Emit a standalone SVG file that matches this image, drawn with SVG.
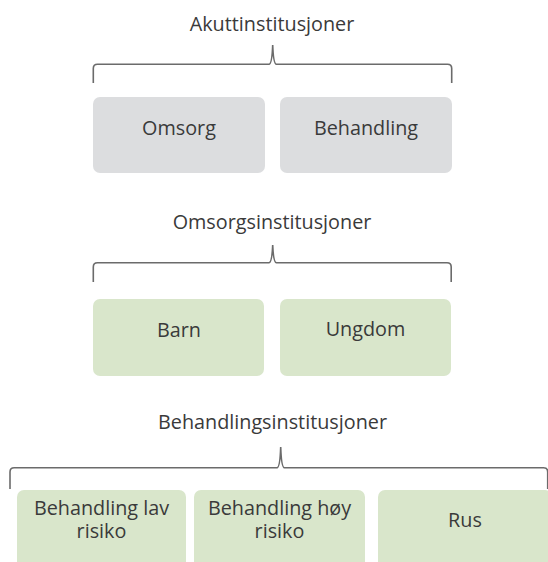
<svg xmlns="http://www.w3.org/2000/svg" width="548" height="562" viewBox="0 0 548 562">
<style>
.title{font-family:"Open Sans","Noto Sans",sans-serif;font-size:19.8px;fill:#3a3a3a;text-anchor:middle}
.lbl{font-family:"Open Sans","Noto Sans",sans-serif;font-size:19.8px;fill:#3a3a3a;text-anchor:middle}
.gray{fill:#dcdddf}
.green{fill:#d9e6cb}
.brace{fill:none;stroke:#6b6b6b;stroke-width:1.6}
</style>
<rect width="548" height="562" fill="#ffffff"/>
<g id="connectors">
<path class="brace" d="M93.3 83 L93.3 68.5 Q93.3 64.3 97.5 64.3 L269 64.3 Q272 64 272.7 45 Q273.4 64 276.4 64.3 L447.5 64.3 Q451.7 64.3 451.7 68.5 L451.7 83"/>
<path class="brace" d="M93.3 282 L93.3 267 Q93.3 262.8 97.5 262.8 L269 262.8 Q272 262.5 272.7 245 Q273.4 262.5 276.4 262.8 L447 262.8 Q451.2 262.8 451.2 267 L451.2 282"/>
<path class="brace" d="M10 489 L10 472 Q10 467.8 14.2 467.8 L277 467.8 Q280 467.5 280.7 447 Q281.4 467.5 284.4 467.8 L543.5 467.8 Q547.7 467.8 547.7 472 L547.7 489"/>
</g>
<g id="title-akutt"><text class="title" x="272" y="31">Akuttinstitusjoner</text></g>
<g id="node-omsorg"><rect class="gray" x="93" y="97" width="172" height="76" rx="7"/><text class="lbl" x="179" y="135">Omsorg</text></g>
<g id="node-behandling"><rect class="gray" x="280" y="97" width="172" height="76" rx="7"/><text class="lbl" x="366" y="135">Behandling</text></g>
<g id="title-omsorg"><text class="title" x="272" y="229">Omsorgsinstitusjoner</text></g>
<g id="node-barn"><rect class="green" x="93" y="299" width="171" height="77" rx="7"/><text class="lbl" x="179" y="337">Barn</text></g>
<g id="node-ungdom"><rect class="green" x="280" y="299" width="171" height="77" rx="7"/><text class="lbl" x="365.5" y="336">Ungdom</text></g>
<g id="title-behandling"><text class="title" x="272.5" y="429">Behandlingsinstitusjoner</text></g>
<g id="node-lav"><rect class="green" x="17" y="490" width="169" height="90" rx="7"/><text class="lbl" x="101.5" y="515"><tspan x="101.5" y="515">Behandling lav</tspan><tspan x="101.5" y="538">risiko</tspan></text></g>
<g id="node-hoy"><rect class="green" x="194" y="490" width="171" height="90" rx="7"/><text class="lbl" x="279.5" y="515"><tspan x="279.5" y="515">Behandling høy</tspan><tspan x="279.5" y="538">risiko</tspan></text></g>
<g id="node-rus"><rect class="green" x="378" y="490" width="174" height="90" rx="7"/><text class="lbl" x="465" y="527">Rus</text></g>
</svg>
